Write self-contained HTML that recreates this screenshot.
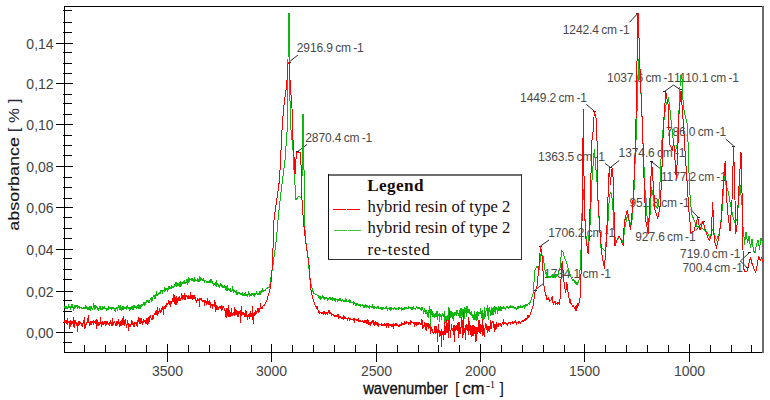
<!DOCTYPE html>
<html><head><meta charset="utf-8"><style>
html,body{margin:0;padding:0;background:#fff;}
body{width:770px;height:400px;overflow:hidden;position:relative;}
svg{position:absolute;left:0;top:0;}
.ax{font-family:"Liberation Sans",sans-serif;font-size:14px;fill:#444;}
.ann{font-family:"Liberation Sans",sans-serif;font-size:12px;fill:#484848;word-spacing:-1.0px;letter-spacing:-0.1px;}
.lg{font-family:"Liberation Serif",serif;font-size:16.6px;fill:#1a0a0a;}
.lgb{font-family:"Liberation Serif",serif;font-size:17.2px;font-weight:bold;fill:#1a0a0a;}
.ttl{font-family:"Liberation Sans",sans-serif;fill:#111;stroke:#111;stroke-width:0.35px;}
</style></head><body>
<svg width="770" height="400" viewBox="0 0 770 400">
<rect x="64" y="6" width="699" height="1" fill="#000"/><rect x="64" y="352" width="699" height="1" fill="#000"/><rect x="64" y="6" width="1" height="347" fill="#000"/><rect x="762" y="6" width="2" height="347" fill="#6a6a6a"/><rect x="56" y="43" width="17" height="1" fill="#000"/><rect x="56" y="83" width="17" height="1" fill="#000"/><rect x="56" y="124" width="17" height="1" fill="#000"/><rect x="56" y="166" width="17" height="1" fill="#000"/><rect x="56" y="207" width="17" height="1" fill="#000"/><rect x="56" y="249" width="17" height="1" fill="#000"/><rect x="56" y="291" width="17" height="1" fill="#000"/><rect x="56" y="332" width="17" height="1" fill="#000"/><rect x="63" y="10" width="9" height="1" fill="#000"/><rect x="63" y="22" width="9" height="1" fill="#000"/><rect x="63" y="32" width="9" height="1" fill="#000"/><rect x="63" y="52" width="9" height="1" fill="#000"/><rect x="63" y="63" width="9" height="1" fill="#000"/><rect x="63" y="73" width="9" height="1" fill="#000"/><rect x="63" y="94" width="9" height="1" fill="#000"/><rect x="63" y="103" width="9" height="1" fill="#000"/><rect x="63" y="114" width="9" height="1" fill="#000"/><rect x="63" y="135" width="9" height="1" fill="#000"/><rect x="63" y="145" width="9" height="1" fill="#000"/><rect x="63" y="155" width="9" height="1" fill="#000"/><rect x="63" y="177" width="9" height="1" fill="#000"/><rect x="63" y="187" width="9" height="1" fill="#000"/><rect x="63" y="198" width="9" height="1" fill="#000"/><rect x="63" y="217" width="9" height="1" fill="#000"/><rect x="63" y="228" width="9" height="1" fill="#000"/><rect x="63" y="238" width="9" height="1" fill="#000"/><rect x="63" y="258" width="9" height="1" fill="#000"/><rect x="63" y="269" width="9" height="1" fill="#000"/><rect x="63" y="279" width="9" height="1" fill="#000"/><rect x="63" y="300" width="9" height="1" fill="#000"/><rect x="63" y="311" width="9" height="1" fill="#000"/><rect x="63" y="322" width="9" height="1" fill="#000"/><rect x="63" y="342" width="9" height="1" fill="#000"/><rect x="84" y="345" width="1" height="8" fill="#000"/><rect x="105" y="345" width="1" height="8" fill="#000"/><rect x="125" y="345" width="1" height="8" fill="#000"/><rect x="146" y="345" width="1" height="8" fill="#000"/><rect x="167" y="344" width="1" height="18" fill="#000"/><rect x="188" y="345" width="1" height="8" fill="#000"/><rect x="209" y="345" width="1" height="8" fill="#000"/><rect x="230" y="345" width="1" height="8" fill="#000"/><rect x="251" y="345" width="1" height="8" fill="#000"/><rect x="271" y="344" width="1" height="18" fill="#000"/><rect x="292" y="345" width="1" height="8" fill="#000"/><rect x="313" y="345" width="1" height="8" fill="#000"/><rect x="334" y="345" width="1" height="8" fill="#000"/><rect x="355" y="345" width="1" height="8" fill="#000"/><rect x="376" y="344" width="1" height="18" fill="#000"/><rect x="397" y="345" width="1" height="8" fill="#000"/><rect x="418" y="345" width="1" height="8" fill="#000"/><rect x="438" y="345" width="1" height="8" fill="#000"/><rect x="459" y="345" width="1" height="8" fill="#000"/><rect x="480" y="344" width="1" height="18" fill="#000"/><rect x="501" y="345" width="1" height="8" fill="#000"/><rect x="522" y="345" width="1" height="8" fill="#000"/><rect x="543" y="345" width="1" height="8" fill="#000"/><rect x="564" y="345" width="1" height="8" fill="#000"/><rect x="584" y="344" width="1" height="18" fill="#000"/><rect x="605" y="345" width="1" height="8" fill="#000"/><rect x="626" y="345" width="1" height="8" fill="#000"/><rect x="647" y="345" width="1" height="8" fill="#000"/><rect x="668" y="345" width="1" height="8" fill="#000"/><rect x="689" y="344" width="1" height="18" fill="#000"/><rect x="710" y="345" width="1" height="8" fill="#000"/><rect x="731" y="345" width="1" height="8" fill="#000"/><rect x="751" y="345" width="1" height="8" fill="#000"/>
<line x1="289" y1="62" x2="298" y2="55" stroke="#2a2a2a" stroke-width="1"/><rect x="288" y="62" width="3" height="1" fill="#222"/><line x1="297.6" y1="151.6" x2="307" y2="144.5" stroke="#2a2a2a" stroke-width="1"/><rect x="296" y="151" width="3" height="1" fill="#222"/><line x1="540.5" y1="246" x2="549" y2="240" stroke="#2a2a2a" stroke-width="1"/><rect x="539" y="246" width="3" height="1" fill="#222"/><line x1="535" y1="290" x2="544" y2="283" stroke="#2a2a2a" stroke-width="1"/><rect x="534" y="290" width="3" height="1" fill="#222"/><line x1="586.3" y1="104.3" x2="594.5" y2="111.3" stroke="#2a2a2a" stroke-width="1"/><rect x="593" y="111" width="3" height="1" fill="#222"/><line x1="605.1" y1="163.4" x2="610.4" y2="167.5" stroke="#2a2a2a" stroke-width="1"/><rect x="609" y="167" width="3" height="1" fill="#222"/><line x1="619.2" y1="160.5" x2="610.4" y2="167.5" stroke="#2a2a2a" stroke-width="1"/><rect x="609" y="167" width="3" height="1" fill="#222"/><line x1="629.5" y1="22.3" x2="637.7" y2="13.5" stroke="#2a2a2a" stroke-width="1"/><rect x="636" y="13" width="3" height="1" fill="#222"/><line x1="673.5" y1="85" x2="680" y2="89.5" stroke="#2a2a2a" stroke-width="1"/><rect x="679" y="89" width="3" height="1" fill="#222"/><line x1="673.5" y1="85" x2="664.5" y2="91.5" stroke="#2a2a2a" stroke-width="1"/><rect x="663" y="91" width="3" height="1" fill="#222"/><line x1="725.6" y1="139" x2="733.8" y2="146" stroke="#2a2a2a" stroke-width="1"/><rect x="732" y="146" width="3" height="1" fill="#222"/><line x1="661.6" y1="169.6" x2="651.1" y2="161.4" stroke="#2a2a2a" stroke-width="1"/><rect x="650" y="161" width="3" height="1" fill="#222"/><line x1="690.7" y1="209.3" x2="698.3" y2="217.5" stroke="#2a2a2a" stroke-width="1"/><rect x="697" y="217" width="3" height="1" fill="#222"/><line x1="696" y1="230.5" x2="703" y2="221" stroke="#2a2a2a" stroke-width="1"/><rect x="702" y="221" width="3" height="1" fill="#222"/><line x1="740.4" y1="261" x2="749.7" y2="252.3" stroke="#2a2a2a" stroke-width="1"/><rect x="748" y="252" width="3" height="1" fill="#222"/><line x1="740.4" y1="261" x2="747.2" y2="267.8" stroke="#2a2a2a" stroke-width="1"/><rect x="746" y="267" width="3" height="1" fill="#222"/><text x="296.8" y="51.9" class="ann">2916.9 cm -1</text><text x="305.3" y="141.6" class="ann">2870.4 cm -1</text><text x="548.3" y="236.6" class="ann">1706.2 cm -1</text><text x="544.1" y="278.1" class="ann">1734.1 cm -1</text><text x="520.1" y="102.2" class="ann">1449.2 cm -1</text><text x="538.1" y="161.0" class="ann">1363.5 cm -1</text><text x="618.6" y="156.6" class="ann">1374.6 cm -1</text><text x="562.8" y="34.0" class="ann">1242.4 cm -1</text><text x="607.1" y="82.0" class="ann">1037.6 cm -1</text><text x="673.9" y="82.0" class="ann">1110.1 cm -1</text><text x="665.9" y="136.0" class="ann">786.0 cm -1</text><text x="660.9" y="180.7" class="ann">1177.2 cm -1</text><text x="629.4" y="207.3" class="ann">951.8 cm -1</text><text x="635.3" y="241.0" class="ann">927.6 cm -1</text><text x="680.1" y="257.9" class="ann">719.0 cm -1</text><text x="682.5" y="272.3" class="ann">700.4 cm -1</text>
<polyline points="64.00,307.00 64.35,307.35 64.70,307.73 65.05,306.44 65.40,307.75 65.75,306.81 66.10,308.62 66.45,306.38 66.80,309.31 67.15,307.80 67.50,307.92 67.85,309.16 68.20,307.57 68.55,304.32 68.90,306.50 69.25,306.61 69.60,307.73 69.95,305.69 70.30,307.87 70.65,309.58 71.00,306.63 71.35,305.85 71.70,308.15 72.05,306.22 72.40,308.34 72.75,306.13 73.10,306.98 73.45,310.55 73.80,309.32 74.15,305.20 74.50,308.84 74.85,306.95 75.20,306.04 75.55,307.08 75.90,307.87 76.25,305.44 76.60,306.76 76.95,307.08 77.30,308.65 77.65,305.20 78.00,306.08 78.35,307.49 78.70,307.44 79.05,306.22 79.40,306.31 79.75,309.11 80.10,307.74 80.45,307.47 80.80,307.18 81.15,308.16 81.50,307.54 81.85,307.93 82.20,308.19 82.55,308.16 82.90,309.37 83.25,306.88 83.60,307.80 83.95,308.00 84.30,308.59 84.65,308.07 85.00,308.97 85.35,305.42 85.70,309.28 86.05,307.40 86.40,307.17 86.75,309.02 87.10,307.78 87.45,307.81 87.80,309.41 88.15,307.85 88.50,310.25 88.85,306.57 89.20,307.81 89.55,310.25 89.90,305.57 90.25,306.43 90.60,309.40 90.95,308.56 91.30,306.14 91.65,307.81 92.00,308.36 92.35,309.04 92.70,308.47 93.05,308.16 93.40,303.38 93.75,304.16 94.10,307.19 94.45,305.53 94.80,309.69 95.15,307.48 95.50,308.80 95.85,305.34 96.20,307.99 96.55,306.72 96.90,306.78 97.25,309.85 97.60,307.45 97.95,307.55 98.30,311.32 98.65,309.09 99.00,309.41 99.35,307.77 99.70,307.00 100.00,308.20 100.05,308.37 100.40,307.69 100.75,309.54 101.10,307.95 101.45,308.41 101.80,309.26 102.15,308.89 102.50,310.18 102.85,306.08 103.20,307.41 103.55,309.10 103.90,307.02 104.25,306.15 104.60,306.18 104.95,308.69 105.30,308.70 105.65,308.44 106.00,308.37 106.35,309.38 106.70,310.69 107.05,308.42 107.40,308.20 107.75,309.85 108.10,308.32 108.45,305.89 108.80,309.51 109.15,307.87 109.50,307.57 109.85,307.70 110.20,307.34 110.55,307.51 110.90,308.35 111.25,306.93 111.60,310.13 111.95,307.97 112.30,307.64 112.65,308.09 113.00,307.38 113.35,308.04 113.70,308.59 114.05,307.96 114.40,308.12 114.75,309.48 115.10,311.77 115.45,308.61 115.80,308.16 116.15,308.37 116.50,306.72 116.85,308.36 117.20,308.01 117.55,309.16 117.90,308.21 118.25,305.31 118.60,307.21 118.95,307.47 119.30,306.42 119.65,309.08 120.00,310.10 120.35,306.35 120.70,305.10 121.05,310.38 121.40,307.07 121.75,309.31 122.10,308.56 122.45,307.43 122.80,308.84 123.15,310.16 123.50,306.87 123.85,307.44 124.20,308.49 124.55,308.39 124.90,307.10 125.25,307.03 125.60,307.44 125.95,308.85 126.30,310.11 126.65,307.18 127.00,307.74 127.35,307.57 127.70,305.30 128.05,308.32 128.40,308.56 128.75,308.01 129.10,307.44 129.45,308.81 129.80,311.02 130.15,308.75 130.50,306.82 130.85,308.40 131.20,307.44 131.55,308.51 131.90,305.91 132.25,307.26 132.60,309.05 132.95,308.33 133.30,309.22 133.65,308.95 134.00,305.17 134.35,308.05 134.70,305.84 135.05,306.29 135.40,306.29 135.75,307.53 136.00,307.60 136.10,308.55 136.45,306.57 136.80,307.06 137.15,307.21 137.50,307.62 137.85,306.34 138.20,304.18 138.55,308.60 138.90,307.43 139.25,308.81 139.60,307.07 139.95,305.32 140.00,306.00 140.30,305.70 140.65,307.27 141.00,306.24 141.35,304.59 141.70,305.94 142.05,305.76 142.40,304.89 142.75,305.25 143.10,304.97 143.45,303.30 143.80,304.28 144.15,302.78 144.50,306.19 144.85,302.31 145.00,303.80 145.20,305.21 145.55,303.47 145.90,302.62 146.25,301.04 146.60,302.65 146.95,300.58 147.30,301.54 147.65,300.47 148.00,300.61 148.35,301.36 148.70,299.84 149.05,302.51 149.40,299.94 149.75,301.93 150.00,300.00 150.10,300.12 150.45,299.68 150.80,299.08 151.15,297.31 151.50,300.41 151.85,299.71 152.20,300.95 152.55,298.51 152.90,298.09 153.25,295.25 153.60,296.44 153.95,294.69 154.30,296.61 154.65,294.99 155.00,298.92 155.35,297.81 155.70,294.25 156.05,293.93 156.40,291.47 156.75,295.60 157.10,294.16 157.45,295.08 157.80,295.65 158.15,293.41 158.50,295.32 158.85,293.61 159.20,291.92 159.55,293.65 159.90,293.69 160.00,292.50 160.25,293.13 160.60,291.91 160.95,290.08 161.30,290.37 161.65,291.89 162.00,291.77 162.35,292.45 162.70,290.59 163.05,290.09 163.40,290.39 163.75,290.53 164.10,291.31 164.45,291.05 164.80,288.55 165.15,289.43 165.50,290.04 165.85,288.92 166.20,289.65 166.55,288.94 166.90,289.80 167.25,287.57 167.60,291.63 167.95,289.60 168.30,288.86 168.65,288.11 169.00,285.92 169.35,288.56 169.70,286.75 170.05,288.69 170.40,287.24 170.75,287.26 171.10,287.75 171.45,288.32 171.80,284.83 172.15,286.46 172.50,287.48 172.85,287.23 173.20,285.70 173.55,287.10 173.90,287.57 174.25,284.41 174.60,285.83 174.95,287.37 175.00,286.00 175.30,283.39 175.65,283.86 176.00,282.14 176.35,286.61 176.70,284.83 177.05,285.09 177.40,284.27 177.75,285.97 178.10,283.59 178.45,285.32 178.80,285.08 179.15,285.56 179.50,282.61 179.85,283.75 180.20,286.54 180.55,281.33 180.90,282.53 181.25,285.54 181.60,284.84 181.95,282.44 182.30,283.09 182.65,283.68 183.00,284.10 183.35,281.90 183.70,282.33 184.05,281.76 184.40,280.09 184.75,282.54 185.00,282.00 185.10,283.09 185.45,283.45 185.80,282.12 186.15,281.43 186.50,282.02 186.85,279.12 187.20,279.16 187.55,281.81 187.90,285.38 188.25,278.29 188.60,280.21 188.95,277.00 189.30,281.21 189.65,281.43 190.00,279.50 190.35,279.72 190.70,279.58 191.05,280.38 191.40,278.81 191.75,278.79 192.10,278.69 192.45,279.39 192.80,281.07 193.15,281.18 193.50,280.12 193.85,279.18 194.20,278.37 194.55,280.05 194.90,282.41 195.25,279.42 195.60,279.77 195.95,280.09 196.30,280.18 196.65,280.03 197.00,280.16 197.35,277.77 197.70,280.52 198.05,279.65 198.40,280.84 198.75,279.38 199.10,281.54 199.45,279.26 199.80,276.33 200.00,279.70 200.15,276.63 200.50,280.87 200.85,280.87 201.20,279.51 201.55,279.63 201.90,278.48 202.25,279.67 202.60,280.10 202.95,280.34 203.30,278.20 203.65,280.48 204.00,280.70 204.35,280.59 204.70,282.81 205.05,279.92 205.40,280.72 205.75,280.91 206.10,280.94 206.45,282.13 206.80,281.12 207.15,280.90 207.50,281.43 207.85,283.08 208.20,281.59 208.55,282.96 208.90,280.93 209.25,280.81 209.60,282.70 209.95,283.14 210.00,282.00 210.30,278.68 210.65,282.70 211.00,280.12 211.35,279.18 211.70,282.48 212.05,282.28 212.40,281.89 212.75,281.98 213.10,284.47 213.45,285.93 213.80,283.66 214.15,283.04 214.50,283.77 214.85,283.92 215.20,285.82 215.55,284.04 215.90,285.10 216.25,285.70 216.60,279.58 216.95,284.78 217.30,284.40 217.65,283.75 218.00,284.72 218.35,286.30 218.70,285.31 219.05,286.01 219.40,286.38 219.75,287.08 220.00,285.50 220.10,283.69 220.45,284.54 220.80,285.18 221.15,286.10 221.50,283.99 221.85,286.02 222.20,285.90 222.55,286.27 222.90,288.20 223.25,286.09 223.60,286.01 223.95,286.37 224.30,288.03 224.65,285.50 225.00,288.12 225.35,289.76 225.70,286.89 226.05,285.64 226.40,288.05 226.75,290.65 227.10,288.08 227.45,285.42 227.80,289.08 228.15,288.31 228.50,289.95 228.85,289.87 229.20,290.72 229.55,290.72 229.90,289.09 230.00,290.00 230.25,288.34 230.60,291.01 230.95,291.34 231.30,289.85 231.65,291.17 232.00,290.56 232.35,285.94 232.70,290.56 233.05,289.57 233.40,292.22 233.75,291.42 234.10,291.08 234.45,290.97 234.80,289.90 235.15,292.79 235.50,290.93 235.85,292.55 236.20,290.22 236.55,293.24 236.90,295.25 237.25,293.67 237.60,292.73 237.95,294.01 238.30,294.00 238.65,291.80 239.00,294.16 239.35,293.32 239.70,292.70 240.00,293.50 240.05,294.70 240.40,293.83 240.75,293.65 241.10,293.68 241.45,293.62 241.80,293.90 242.15,295.92 242.50,293.04 242.85,293.39 243.20,295.63 243.55,295.18 243.90,295.05 244.25,294.25 244.60,294.85 244.95,293.26 245.30,293.66 245.65,292.14 246.00,295.80 246.35,294.26 246.70,294.65 247.05,294.73 247.40,294.52 247.75,296.44 248.10,293.29 248.45,291.10 248.80,294.63 249.15,293.26 249.50,295.29 249.85,296.28 250.00,295.50 250.20,294.42 250.55,294.96 250.90,295.68 251.25,295.43 251.60,295.82 251.95,293.21 252.30,293.16 252.65,294.24 253.00,294.40 253.35,293.67 253.70,293.61 254.05,296.52 254.40,293.21 254.75,293.54 255.00,294.50 255.10,294.00 255.45,292.93 255.80,295.12 256.15,292.52 256.50,291.81 256.85,292.86 257.20,293.88 257.55,294.29 257.90,293.59 258.25,293.46 258.60,294.32 258.95,293.32 259.30,291.38 259.65,293.73 260.00,293.00 260.35,292.51 260.70,293.56 261.05,291.74 261.40,291.79 261.75,292.95 262.10,288.54 262.45,292.33 262.80,290.66 263.15,291.41 263.50,291.64 263.85,290.26 264.20,290.38 264.55,290.29 264.90,289.83 265.00,290.00 265.25,290.10 265.60,289.41 265.95,289.20 266.30,288.92 266.65,288.62 267.00,288.33 267.35,288.04 267.70,287.75 268.00,287.50 268.05,287.48 268.40,287.37 268.75,287.25 269.10,287.13 269.45,287.02 269.50,287.00 269.80,285.11 270.15,282.91 270.50,280.71 270.85,278.51 271.20,276.31 271.55,274.11 271.90,271.91 272.25,269.71 272.60,267.51 272.95,265.31 273.00,265.00 273.30,262.73 273.65,260.08 274.00,257.42 274.35,254.77 274.70,252.12 275.05,249.47 275.40,246.82 275.75,244.17 276.10,241.52 276.30,240.00 276.45,238.24 276.80,234.12 277.15,230.00 277.50,225.88 277.85,221.76 278.00,220.00 278.20,218.00 278.55,214.50 278.90,211.00 279.25,207.50 279.50,205.00 279.60,204.17 279.95,201.25 280.30,198.33 280.65,195.42 281.00,192.50 281.35,189.58 281.70,186.67 282.05,183.75 282.40,180.83 282.50,180.00 282.75,178.00 283.10,175.20 283.45,172.40 283.80,169.60 284.15,166.80 284.50,164.00 284.85,161.20 285.00,160.00 285.20,157.27 285.55,152.50 285.90,147.73 286.25,142.95 286.60,138.18 286.95,133.41 287.20,130.00 287.30,121.25 287.65,90.63 288.00,60.00 288.35,18.87 288.40,13.00 288.70,13.00 289.05,13.00 289.30,13.00 289.40,28.67 289.60,60.00 289.75,75.00 290.10,110.00 290.45,117.78 290.80,125.56 291.00,130.00 291.15,131.50 291.50,135.00 291.85,138.50 292.20,142.00 292.55,145.50 292.90,149.00 293.00,150.00 293.25,155.00 293.60,162.00 293.95,169.00 294.00,170.00 294.30,174.50 294.65,179.75 295.00,185.00 295.35,190.25 295.70,195.50 296.00,200.00 296.05,199.93 296.40,199.47 296.75,199.00 297.10,198.53 297.45,198.07 297.80,197.60 298.15,197.13 298.50,196.67 298.85,196.20 299.00,196.00 299.20,196.20 299.55,196.55 299.90,196.90 300.25,197.25 300.60,197.60 300.95,197.95 301.00,198.00 301.30,191.54 301.65,184.00 302.00,176.46 302.30,170.00 302.35,163.00 302.70,114.00 303.05,114.00 303.40,114.00 303.60,114.00 303.75,135.00 304.00,170.00 304.10,180.00 304.45,215.00 304.50,220.00 304.80,226.00 305.15,233.00 305.50,240.00 305.85,242.28 306.20,244.57 306.55,246.85 306.90,249.13 307.25,251.41 307.60,253.70 307.80,255.00 307.95,256.70 308.30,260.68 308.65,264.66 309.00,268.64 309.35,272.61 309.70,276.59 310.00,280.00 310.05,280.19 310.40,281.53 310.75,282.87 311.10,284.21 311.45,285.54 311.80,286.88 312.15,288.24 312.50,289.60 312.85,291.00 313.20,292.26 313.40,293.00 313.55,293.31 313.90,293.35 314.25,293.58 314.60,293.29 314.95,293.93 315.30,294.01 315.65,294.63 316.00,294.87 316.35,294.24 316.70,294.73 317.05,295.16 317.40,295.17 317.75,295.79 318.10,295.45 318.45,296.81 318.80,297.62 319.00,297.00 319.15,298.20 319.50,296.59 319.85,298.17 320.20,298.70 320.55,297.12 320.90,297.49 321.25,297.10 321.60,297.73 321.95,298.33 322.30,297.08 322.65,296.29 323.00,297.99 323.35,297.27 323.70,298.05 324.05,299.43 324.40,297.55 324.75,297.33 325.00,298.00 325.10,297.59 325.45,299.20 325.80,297.44 326.15,298.79 326.50,297.13 326.85,297.26 327.20,298.77 327.55,298.62 327.90,300.07 328.25,299.08 328.60,299.47 328.95,298.21 329.30,298.12 329.65,297.96 330.00,298.50 330.35,298.12 330.70,298.96 331.05,297.95 331.40,299.34 331.75,298.51 332.10,298.91 332.45,298.22 332.80,301.19 333.15,299.12 333.50,299.00 333.85,298.77 334.20,298.89 334.55,299.47 334.90,300.36 335.25,300.66 335.60,299.07 335.95,299.68 336.30,299.43 336.65,299.16 337.00,300.02 337.35,300.68 337.70,299.88 338.05,299.56 338.40,299.53 338.75,300.76 339.10,300.86 339.45,298.42 339.80,300.19 340.00,300.20 340.15,299.87 340.50,298.30 340.85,300.21 341.20,301.77 341.55,300.96 341.90,300.51 342.25,299.17 342.60,301.25 342.95,299.96 343.30,301.10 343.65,301.42 344.00,299.62 344.35,300.88 344.70,300.28 345.05,301.18 345.40,301.13 345.75,297.89 346.10,301.52 346.45,299.68 346.80,299.96 347.15,301.42 347.50,301.49 347.85,301.69 348.20,301.75 348.55,300.23 348.90,301.75 349.25,299.12 349.60,302.85 349.95,301.65 350.00,301.80 350.30,301.85 350.65,300.54 351.00,302.79 351.35,302.50 351.70,302.61 352.05,301.77 352.40,302.11 352.75,302.60 353.10,301.90 353.45,304.47 353.80,303.47 354.15,302.86 354.50,303.38 354.85,302.80 355.20,305.55 355.55,303.49 355.90,303.55 356.25,303.65 356.60,304.06 356.95,305.55 357.30,304.03 357.65,304.60 358.00,303.97 358.35,304.43 358.70,304.74 359.05,305.57 359.40,305.24 359.75,304.53 360.00,305.00 360.10,304.27 360.45,306.51 360.80,305.83 361.15,305.67 361.50,305.58 361.85,305.30 362.20,304.22 362.55,304.56 362.90,305.88 363.25,306.52 363.60,305.04 363.95,307.37 364.30,306.05 364.65,307.41 365.00,305.28 365.35,305.09 365.70,306.40 366.05,306.22 366.40,306.79 366.75,306.01 367.10,306.50 367.45,306.00 367.80,305.20 368.15,306.83 368.50,306.61 368.85,307.13 369.20,307.96 369.55,305.61 369.90,306.23 370.00,306.80 370.25,306.07 370.60,306.42 370.95,306.58 371.30,307.78 371.65,307.77 372.00,306.60 372.35,305.74 372.70,307.61 373.05,306.26 373.40,307.86 373.75,307.44 374.10,305.94 374.45,308.17 374.80,307.27 375.15,307.65 375.50,307.64 375.85,307.91 376.20,308.18 376.55,308.32 376.90,306.91 377.25,306.57 377.60,306.62 377.95,307.89 378.30,307.46 378.65,308.53 379.00,308.10 379.35,308.68 379.70,308.92 380.00,308.00 380.05,309.13 380.40,308.06 380.75,307.84 381.10,308.12 381.45,307.67 381.80,308.97 382.15,308.23 382.50,308.05 382.85,309.70 383.20,307.88 383.55,308.02 383.90,307.84 384.25,308.20 384.60,308.02 384.95,309.20 385.30,308.34 385.65,307.61 386.00,309.07 386.35,306.31 386.70,308.10 387.05,307.80 387.40,309.69 387.75,308.85 388.10,308.40 388.45,308.27 388.80,308.72 389.15,308.20 389.50,307.79 389.85,309.64 390.00,308.80 390.20,307.29 390.55,310.52 390.90,308.90 391.25,309.08 391.60,308.00 391.95,309.11 392.30,308.26 392.65,308.48 393.00,308.09 393.35,309.30 393.70,308.90 394.05,308.81 394.40,307.99 394.75,308.64 395.10,308.46 395.45,308.43 395.80,309.56 396.15,309.35 396.50,308.92 396.85,308.34 397.20,308.27 397.55,308.28 397.90,308.61 398.25,307.96 398.60,309.90 398.95,308.42 399.30,307.62 399.65,308.12 400.00,308.50 400.35,308.12 400.70,308.23 401.05,309.11 401.40,309.78 401.75,307.25 402.10,309.76 402.45,308.97 402.80,309.16 403.15,309.31 403.50,309.20 403.85,308.54 404.20,309.08 404.55,308.21 404.90,307.51 405.25,308.18 405.60,308.01 405.95,307.49 406.30,307.71 406.65,307.71 407.00,308.45 407.35,308.17 407.70,308.47 408.05,307.58 408.40,309.07 408.75,307.54 409.10,308.07 409.45,308.00 409.80,307.81 410.00,308.00 410.15,308.34 410.50,307.86 410.85,307.25 411.20,307.56 411.55,308.67 411.90,307.44 412.25,308.30 412.60,306.86 412.95,309.56 413.30,307.83 413.65,305.80 414.00,308.33 414.35,308.56 414.70,308.22 415.05,308.14 415.40,309.08 415.75,308.07 416.10,308.01 416.45,307.71 416.80,306.90 417.15,307.88 417.50,308.31 417.85,307.76 418.20,308.45 418.55,308.14 418.90,307.76 419.25,308.59 419.60,308.00 419.95,307.15 420.00,308.00 420.30,308.13 420.65,308.96 421.00,308.06 421.35,309.85 421.70,309.14 422.05,307.26 422.40,308.55 422.75,309.36 423.10,309.93 423.45,310.07 423.80,313.86 424.15,310.05 424.50,308.99 424.85,309.27 425.00,310.00 425.20,312.91 425.55,310.33 425.90,313.21 426.25,314.11 426.60,311.18 426.95,311.66 427.30,316.60 427.65,313.63 428.00,313.01 428.35,317.59 428.70,310.86 429.05,310.39 429.40,309.67 429.75,306.24 430.00,313.00 430.10,314.76 430.45,326.88 430.80,308.78 431.15,310.97 431.50,314.52 431.85,309.23 432.20,313.83 432.55,313.18 432.90,316.38 433.25,316.59 433.60,314.46 433.95,313.46 434.30,315.63 434.65,318.42 435.00,315.00 435.35,313.28 435.70,316.55 436.05,314.25 436.40,311.51 436.75,316.92 437.10,310.54 437.45,319.62 437.80,317.36 438.15,314.47 438.50,315.75 438.85,314.16 439.20,313.45 439.55,322.33 439.90,318.34 440.00,316.00 440.25,317.30 440.60,316.09 440.95,314.33 441.30,319.76 441.65,317.02 442.00,315.69 442.35,314.15 442.70,314.97 443.05,314.16 443.40,316.50 443.75,315.54 444.10,315.15 444.45,322.04 444.80,311.48 445.00,317.50 445.15,316.14 445.50,319.82 445.85,317.14 446.20,329.30 446.55,315.87 446.90,319.20 447.00,319.00 447.25,318.92 447.60,320.80 447.95,316.22 448.30,310.07 448.65,325.30 449.00,307.18 449.35,319.44 449.70,315.85 450.00,316.00 450.05,318.09 450.40,314.29 450.75,311.47 451.10,313.19 451.45,316.48 451.80,311.20 452.15,314.48 452.50,312.28 452.85,317.35 453.20,320.69 453.55,312.86 453.90,317.54 454.25,312.56 454.60,313.09 454.95,314.83 455.00,312.50 455.30,313.60 455.65,312.32 456.00,314.38 456.35,310.28 456.70,315.94 457.05,310.28 457.40,311.38 457.75,313.12 458.10,313.86 458.45,313.75 458.80,313.17 459.15,317.68 459.50,310.75 459.85,310.10 460.00,312.00 460.20,317.86 460.55,308.43 460.90,311.37 461.25,315.04 461.60,315.77 461.95,309.53 462.30,310.13 462.65,316.49 463.00,316.43 463.35,316.36 463.70,313.06 464.05,308.95 464.40,319.18 464.75,307.51 465.00,313.00 465.10,308.41 465.45,310.84 465.80,311.45 466.15,313.94 466.50,306.48 466.85,317.48 467.20,306.51 467.55,311.13 467.90,312.69 468.25,312.30 468.60,308.78 468.95,310.78 469.30,310.27 469.65,312.87 470.00,313.50 470.35,311.91 470.70,315.05 471.05,313.34 471.40,314.30 471.75,310.64 472.10,317.11 472.45,314.05 472.80,315.01 473.15,319.59 473.50,315.19 473.85,320.27 474.20,319.02 474.55,317.72 474.90,311.09 475.00,317.00 475.25,315.74 475.60,313.57 475.95,320.07 476.30,312.07 476.65,316.93 477.00,320.60 477.35,311.38 477.70,318.02 478.05,314.55 478.40,314.97 478.75,313.15 479.10,314.01 479.45,313.26 479.80,312.20 480.00,313.50 480.15,308.44 480.50,312.62 480.85,309.65 481.20,318.48 481.55,311.02 481.90,310.98 482.25,310.31 482.60,311.22 482.95,319.22 483.30,317.55 483.65,312.74 484.00,319.66 484.35,306.82 484.70,313.19 485.00,312.50 485.05,316.73 485.40,315.00 485.75,313.53 486.10,309.85 486.45,308.64 486.80,308.45 487.15,309.93 487.50,305.16 487.85,313.31 488.20,319.52 488.55,307.99 488.90,312.17 489.25,307.40 489.60,311.58 489.95,309.57 490.00,310.50 490.30,315.89 490.65,310.20 491.00,312.74 491.35,306.72 491.70,311.15 492.05,314.83 492.40,311.22 492.75,307.72 493.10,315.26 493.45,307.40 493.80,312.89 494.15,305.65 494.50,307.63 494.85,311.91 495.00,309.50 495.20,314.39 495.55,306.97 495.90,309.57 496.25,307.65 496.60,307.75 496.95,308.87 497.30,314.32 497.65,308.87 498.00,308.23 498.35,307.64 498.70,309.10 499.05,310.98 499.40,308.87 499.75,307.74 500.00,308.50 500.10,308.78 500.45,309.53 500.80,307.07 501.15,307.45 501.50,310.43 501.85,308.90 502.20,307.97 502.55,307.88 502.90,308.13 503.25,308.20 503.60,309.33 503.95,306.50 504.30,308.47 504.65,308.19 505.00,308.18 505.35,308.52 505.70,309.40 506.05,307.62 506.40,307.37 506.75,306.45 507.10,306.20 507.45,307.70 507.80,307.69 508.15,307.52 508.50,307.39 508.85,308.47 509.20,307.20 509.55,306.72 509.90,308.05 510.00,307.50 510.25,306.19 510.60,305.80 510.95,308.21 511.30,306.84 511.65,307.20 512.00,307.37 512.35,306.87 512.70,307.13 513.05,306.89 513.40,307.38 513.75,306.96 514.10,307.78 514.45,307.94 514.80,307.49 515.15,307.13 515.50,308.22 515.85,307.54 516.20,309.21 516.55,308.23 516.90,307.96 517.25,306.94 517.60,308.81 517.95,306.85 518.30,309.42 518.65,306.07 519.00,308.07 519.35,306.13 519.70,307.23 520.00,307.50 520.05,305.21 520.40,307.33 520.75,307.42 521.10,308.12 521.45,307.18 521.80,307.25 522.15,306.14 522.50,307.04 522.85,306.51 523.20,305.72 523.55,306.08 523.90,305.67 524.25,305.62 524.60,305.31 524.95,308.59 525.00,306.00 525.30,307.14 525.65,305.57 526.00,306.21 526.35,305.39 526.70,304.78 527.05,304.92 527.40,304.47 527.75,305.33 528.10,303.51 528.45,303.35 528.80,303.78 529.15,304.50 529.50,303.28 529.85,302.26 530.00,303.00 530.20,302.06 530.55,301.63 530.90,300.25 531.25,299.24 531.60,298.11 531.95,297.14 532.30,296.10 532.65,295.05 533.00,294.00 533.35,289.80 533.70,285.60 534.05,281.40 534.40,277.20 534.75,273.00 535.00,270.00 535.10,269.80 535.45,269.10 535.80,268.40 536.15,267.70 536.50,267.00 536.85,266.30 537.00,266.00 537.20,266.40 537.55,267.10 537.90,267.80 538.25,268.50 538.60,269.20 538.95,269.90 539.00,270.00 539.30,267.60 539.65,264.80 540.00,262.00 540.35,259.20 540.70,256.40 541.00,254.00 541.05,254.05 541.40,254.40 541.75,254.75 542.10,255.10 542.45,255.45 542.80,255.80 543.00,256.00 543.15,257.05 543.50,259.50 543.85,261.95 544.20,264.40 544.55,266.85 544.90,269.30 545.00,270.00 545.25,270.74 545.60,272.68 545.95,272.28 546.30,273.68 546.65,276.54 547.00,277.00 547.35,276.45 547.70,275.51 548.05,276.54 548.40,277.14 548.75,276.38 549.10,276.65 549.45,277.49 549.80,277.58 550.00,276.00 550.15,275.98 550.50,276.88 550.85,277.69 551.20,275.21 551.55,276.37 551.90,275.95 552.25,273.58 552.60,277.02 552.95,277.64 553.30,274.70 553.65,275.28 554.00,277.04 554.35,276.56 554.70,277.67 555.00,276.00 555.05,277.76 555.40,273.93 555.75,274.79 556.10,275.53 556.45,276.76 556.80,274.48 557.15,274.79 557.50,275.52 557.85,274.97 558.00,275.00 558.20,274.49 558.55,272.07 558.90,271.41 559.25,270.36 559.60,269.86 559.95,268.17 560.00,268.00 560.30,264.60 560.65,260.63 561.00,256.67 561.35,252.70 561.50,251.00 561.70,251.13 562.05,251.37 562.40,251.60 562.75,251.83 563.00,252.00 563.10,252.40 563.45,253.80 563.80,255.20 564.15,256.60 564.50,258.00 564.85,258.72 565.20,259.57 565.55,260.17 565.90,260.85 566.25,262.06 566.60,263.35 566.70,262.50 566.95,263.80 567.30,265.16 567.65,267.11 568.00,268.19 568.35,269.67 568.40,270.00 568.70,273.03 569.05,271.03 569.40,274.01 569.75,273.11 570.10,274.87 570.45,274.87 570.80,276.78 571.15,277.72 571.50,278.40 571.85,279.06 572.20,279.10 572.55,279.83 572.90,280.56 573.25,279.67 573.60,280.50 573.95,280.40 574.30,282.45 574.65,279.79 575.00,281.69 575.35,282.81 575.70,281.91 576.05,282.29 576.40,283.03 576.75,284.62 576.80,283.70 577.10,282.96 577.45,283.58 577.80,282.82 578.15,282.78 578.50,281.17 578.85,281.99 578.90,281.60 579.20,277.65 579.55,273.96 579.90,271.11 580.00,270.00 580.25,266.25 580.60,261.00 580.80,258.00 580.95,252.44 581.30,239.47 581.65,226.50 582.00,213.53 582.35,200.56 582.50,195.00 582.70,193.80 583.05,191.70 583.40,189.60 583.50,189.00 583.75,194.25 584.10,201.60 584.45,208.95 584.50,210.00 584.80,215.22 585.15,221.31 585.50,227.40 585.85,233.49 586.20,239.58 586.50,244.80 586.55,244.81 586.90,244.85 587.25,244.89 587.60,244.94 587.95,244.98 588.10,245.00 588.30,242.89 588.65,239.21 589.00,235.53 589.35,231.84 589.70,228.16 590.00,225.00 590.05,223.88 590.40,216.00 590.75,208.12 591.10,200.25 591.45,192.37 591.80,184.50 592.00,180.00 592.15,177.98 592.50,173.26 592.85,168.54 593.20,163.83 593.55,159.11 593.90,154.39 594.25,149.67 594.30,149.00 594.60,152.67 594.95,156.94 595.30,161.22 595.65,165.50 596.00,169.78 596.35,174.06 596.70,178.33 597.00,182.00 597.05,182.93 597.40,189.47 597.75,196.00 598.10,202.53 598.45,209.07 598.50,210.00 598.80,214.50 599.15,219.75 599.50,225.00 599.85,230.25 600.20,235.50 600.55,240.75 600.90,246.00 601.00,247.50 601.25,247.71 601.60,248.00 601.95,248.28 602.30,248.57 602.65,248.86 603.00,249.15 603.35,249.44 603.70,249.73 604.05,250.02 604.40,250.30 604.75,250.59 605.00,250.80 605.10,249.97 605.45,247.06 605.80,244.14 606.15,241.23 606.50,238.32 606.85,235.41 607.20,232.50 607.50,230.00 607.55,229.13 607.90,223.00 608.25,216.88 608.60,210.75 608.95,204.62 609.30,198.50 609.50,195.00 609.65,194.75 610.00,194.17 610.35,193.58 610.70,193.00 611.00,192.50 611.05,192.75 611.40,194.50 611.75,196.25 612.10,198.00 612.45,199.75 612.50,200.00 612.80,206.00 613.15,213.00 613.50,220.00 613.85,227.00 614.00,230.00 614.20,231.33 614.55,233.67 614.90,236.00 615.25,238.33 615.60,240.67 615.80,242.00 615.95,241.75 616.30,241.17 616.65,240.58 617.00,240.00 617.35,239.47 617.70,238.95 618.05,238.43 618.40,237.90 618.75,237.38 619.00,237.00 619.10,237.09 619.45,237.41 619.80,237.73 620.15,238.05 620.50,238.36 620.85,238.68 621.20,239.00 621.55,239.67 621.90,240.33 622.25,241.00 622.60,241.67 622.95,242.33 623.30,243.00 623.65,239.21 624.00,235.42 624.35,231.62 624.50,230.00 624.70,228.93 625.05,227.05 625.40,225.18 625.75,223.30 626.10,221.43 626.45,219.55 626.80,217.68 627.15,215.80 627.30,215.00 627.50,215.74 627.85,217.04 628.20,218.33 628.55,219.63 628.90,220.93 629.25,222.22 629.60,223.52 629.95,224.81 630.00,225.00 630.30,224.25 630.65,223.38 631.00,222.50 631.35,221.62 631.70,220.75 632.00,220.00 632.05,219.25 632.40,214.00 632.75,208.75 633.10,203.50 633.45,198.25 633.80,193.00 634.00,190.00 634.15,186.25 634.50,177.50 634.85,168.75 635.20,160.00 635.55,151.25 635.90,142.50 636.00,140.00 636.25,133.12 636.60,123.50 636.80,118.00 636.95,113.34 637.30,102.47 637.65,91.61 638.00,80.74 638.35,69.87 638.70,59.00 639.05,64.65 639.40,70.31 639.75,75.96 640.00,80.00 640.10,81.38 640.45,86.23 640.80,91.08 641.15,95.92 641.30,98.00 641.50,103.20 641.85,112.30 642.20,121.40 642.55,130.50 642.90,139.60 643.25,148.70 643.30,150.00 643.60,157.06 643.95,165.29 644.30,173.53 644.65,181.76 645.00,190.00 645.35,195.54 645.70,201.08 646.05,206.62 646.20,209.00 646.40,210.77 646.75,213.87 647.10,216.97 647.45,220.07 647.80,223.17 648.15,226.27 648.30,227.60 648.50,226.12 648.85,223.52 649.20,220.93 649.55,218.34 649.90,215.74 650.00,215.00 650.25,210.30 650.60,203.72 650.95,197.14 651.30,190.56 651.50,186.80 651.65,187.62 652.00,189.53 652.35,191.45 652.70,193.36 653.00,195.00 653.05,195.25 653.40,197.00 653.75,198.75 654.10,200.50 654.45,202.25 654.80,204.00 655.00,205.00 655.15,205.20 655.50,205.66 655.85,206.12 656.20,206.59 656.55,207.05 656.90,207.51 657.25,207.97 657.60,208.44 657.80,208.70 657.95,207.49 658.30,204.67 658.65,201.85 659.00,199.03 659.35,196.21 659.50,195.00 659.70,190.08 660.05,181.46 660.40,172.85 660.75,164.23 660.80,163.00 661.10,157.25 661.45,150.54 661.80,143.83 662.00,140.00 662.15,138.50 662.50,135.00 662.85,131.50 663.20,128.00 663.55,124.50 663.90,121.00 664.00,120.00 664.25,118.12 664.60,115.50 664.95,112.87 665.30,110.25 665.65,107.63 666.00,105.00 666.35,103.92 666.70,102.84 667.05,101.76 667.40,100.68 667.75,99.60 668.10,98.52 668.40,97.60 668.45,97.99 668.80,100.70 669.15,103.41 669.50,106.13 669.85,108.84 670.00,110.00 670.20,112.00 670.55,115.50 670.90,119.00 671.25,122.50 671.50,125.00 671.60,125.88 671.95,128.97 672.30,132.06 672.65,135.15 673.00,138.24 673.20,140.00 673.35,140.90 673.70,143.00 674.05,145.10 674.40,147.20 674.75,149.30 675.10,151.40 675.20,152.00 675.45,151.03 675.80,149.67 676.15,148.31 676.50,146.94 676.85,145.58 677.00,145.00 677.20,142.14 677.55,137.14 677.90,132.14 678.25,127.14 678.40,125.00 678.60,120.24 678.95,111.90 679.30,103.57 679.65,95.24 680.00,86.90 680.35,78.57 680.50,75.00 680.70,75.00 681.05,75.00 681.40,75.00 681.75,75.00 681.80,75.00 682.10,81.25 682.45,88.54 682.80,95.83 683.00,100.00 683.15,101.50 683.50,105.00 683.85,108.50 684.10,111.00 684.20,111.40 684.55,112.81 684.90,114.22 685.25,115.64 685.60,117.05 685.95,118.46 686.30,119.87 686.65,121.28 687.00,122.69 687.30,123.90 687.35,125.19 687.70,134.24 688.00,142.00 688.05,143.56 688.40,154.44 688.75,165.33 688.90,170.00 689.10,174.55 689.45,182.50 689.80,190.45 690.00,195.00 690.15,196.72 690.50,200.74 690.85,204.75 691.20,208.76 691.55,212.78 691.70,214.50 691.90,214.95 692.25,215.75 692.60,216.54 692.95,217.33 693.30,218.12 693.65,218.92 694.00,219.71 694.35,220.50 694.70,221.29 695.05,222.08 695.40,222.88 695.75,223.67 696.10,224.46 696.45,225.25 696.80,226.05 697.00,226.50 697.15,226.55 697.50,226.67 697.85,226.78 698.20,226.90 698.55,227.02 698.90,227.13 699.25,227.25 699.60,227.37 699.95,227.48 700.30,227.60 700.65,227.72 701.00,227.83 701.35,227.95 701.50,228.00 701.70,228.13 702.05,228.37 702.40,228.60 702.75,228.83 703.10,229.07 703.45,229.30 703.80,229.53 704.15,229.77 704.50,230.00 704.85,230.23 705.20,230.47 705.55,230.70 705.90,230.93 706.00,231.00 706.25,231.41 706.60,231.97 706.95,232.54 707.30,233.11 707.65,233.68 708.00,234.24 708.35,234.81 708.70,235.38 709.05,235.95 709.40,236.51 709.70,237.00 709.75,236.88 710.10,236.00 710.45,235.12 710.80,234.25 711.15,233.38 711.50,232.50 711.85,231.63 712.20,230.75 712.55,229.88 712.70,229.50 712.90,230.05 713.25,231.02 713.60,231.99 713.95,232.95 714.30,233.92 714.65,234.89 715.00,235.86 715.35,236.82 715.70,237.79 716.05,238.76 716.40,239.72 716.50,240.00 716.75,239.38 717.10,238.50 717.45,237.62 717.80,236.75 718.15,235.88 718.50,235.00 718.85,234.12 719.20,233.25 719.50,232.50 719.55,232.08 719.90,229.10 720.25,226.12 720.60,223.15 720.95,220.17 721.30,217.20 721.65,214.23 722.00,211.25 722.35,208.27 722.50,207.00 722.70,202.73 723.05,195.27 723.40,187.80 723.75,180.33 724.00,175.00 724.10,175.50 724.45,177.25 724.80,179.00 725.15,180.75 725.50,182.50 725.85,184.25 726.00,185.00 726.20,185.60 726.55,186.65 726.90,187.70 727.25,188.75 727.60,189.80 727.95,190.85 728.00,191.00 728.30,192.60 728.65,194.47 729.00,196.33 729.35,198.20 729.70,200.07 730.05,201.93 730.40,203.80 730.75,205.67 731.00,207.00 731.10,207.50 731.45,209.25 731.80,211.00 732.15,212.75 732.50,214.50 732.85,216.25 733.00,217.00 733.20,217.60 733.55,218.65 733.90,219.70 734.25,220.75 734.60,221.80 734.95,222.85 735.00,223.00 735.30,222.40 735.65,221.70 736.00,221.00 736.35,220.30 736.70,219.60 737.00,219.00 737.05,218.43 737.40,214.47 737.75,210.50 738.10,206.53 738.45,202.57 738.80,198.60 739.15,194.63 739.50,190.67 739.85,186.70 740.00,185.00 740.20,187.01 740.55,190.56 740.90,194.05 741.25,198.37 741.60,200.74 741.95,203.94 742.00,205.00 742.30,211.21 742.65,218.64 743.00,227.00 743.35,228.07 743.50,230.00 743.70,232.99 744.05,237.90 744.40,243.56 744.50,245.00 744.75,242.66 745.10,238.94 745.45,237.18 745.80,233.90 746.00,232.00 746.15,234.18 746.50,234.56 746.85,238.06 747.20,240.37 747.50,243.00 747.55,240.98 747.90,240.50 748.25,240.12 748.60,238.40 748.95,236.94 749.00,236.00 749.30,236.10 749.65,242.21 750.00,244.12 750.35,246.96 750.50,248.00 750.70,246.31 751.05,244.41 751.40,242.99 751.75,240.94 752.00,239.00 752.10,239.93 752.45,243.19 752.80,246.55 753.15,247.15 753.50,251.00 753.85,250.68 754.20,251.84 754.55,252.34 754.90,251.99 755.00,253.00 755.25,251.30 755.60,249.45 755.95,247.21 756.30,244.70 756.50,244.00 756.65,243.21 757.00,243.20 757.35,241.52 757.70,240.78 758.00,240.00 758.05,240.07 758.40,243.01 758.75,243.65 759.10,246.24 759.45,250.13 759.50,250.00 759.80,247.13 760.15,243.56 760.50,241.78 760.85,239.10 761.00,238.00 761.20,238.48 761.55,240.24 761.90,240.08 762.25,241.98 762.60,243.40" fill="none" stroke="#0cb80c" stroke-width="1" shape-rendering="crispEdges"/>
<polyline points="64.00,322.50 64.35,320.45 64.70,323.16 65.05,320.12 65.40,320.18 65.75,321.98 66.10,323.26 66.45,322.41 66.80,322.13 67.15,318.15 67.50,324.99 67.85,324.98 68.20,320.86 68.55,323.05 68.90,321.39 69.25,321.13 69.60,321.64 69.95,328.48 70.30,320.00 70.65,322.55 71.00,323.35 71.35,323.69 71.70,321.36 72.05,323.92 72.40,322.77 72.75,324.13 73.10,320.76 73.45,317.12 73.80,326.62 74.15,325.17 74.50,327.47 74.85,320.01 75.20,322.75 75.55,320.28 75.90,323.44 76.25,325.91 76.60,322.33 76.95,323.32 77.30,324.57 77.65,332.02 78.00,322.78 78.35,325.89 78.70,323.63 79.05,321.14 79.40,322.00 79.75,324.90 80.00,323.00 80.10,322.50 80.45,323.42 80.80,323.92 81.15,323.03 81.50,324.14 81.85,324.42 82.20,327.02 82.55,322.96 82.90,324.29 83.25,322.77 83.60,324.11 83.95,320.81 84.30,317.35 84.65,321.86 85.00,328.52 85.35,324.47 85.70,324.46 86.05,324.60 86.40,324.24 86.75,324.34 87.10,321.68 87.45,321.46 87.80,323.23 88.15,314.94 88.50,321.87 88.85,321.68 89.20,323.87 89.55,323.19 89.90,325.49 90.25,321.54 90.60,324.60 90.95,322.40 91.30,324.47 91.65,321.92 92.00,321.05 92.35,322.17 92.70,322.70 93.05,322.81 93.40,325.32 93.75,321.35 94.10,321.64 94.45,322.37 94.80,322.87 95.15,322.05 95.50,323.46 95.85,320.36 96.20,319.38 96.55,328.82 96.90,326.66 97.25,319.90 97.60,324.67 97.95,323.95 98.30,325.13 98.65,324.63 99.00,322.20 99.35,324.73 99.70,324.95 100.00,323.40 100.05,322.36 100.40,317.05 100.75,320.40 101.10,324.67 101.45,322.06 101.80,326.49 102.15,323.81 102.50,322.66 102.85,321.20 103.20,322.96 103.55,323.04 103.90,324.09 104.25,323.84 104.60,321.07 104.95,324.25 105.30,324.89 105.65,322.61 106.00,321.46 106.35,323.20 106.70,325.05 107.05,321.20 107.40,321.48 107.75,324.07 108.10,323.02 108.45,324.78 108.80,324.87 109.15,321.80 109.50,325.06 109.85,325.31 110.20,321.83 110.55,320.22 110.90,323.21 111.25,322.25 111.60,325.64 111.95,323.15 112.30,326.42 112.65,318.17 113.00,324.28 113.35,323.04 113.70,324.05 114.05,322.42 114.40,322.15 114.75,320.62 115.10,323.18 115.45,325.44 115.80,323.42 116.15,325.63 116.50,323.14 116.85,320.95 117.20,322.05 117.55,322.92 117.90,324.48 118.25,322.77 118.60,320.60 118.95,321.42 119.30,326.47 119.65,323.08 120.00,323.50 120.35,324.23 120.70,321.31 121.05,325.56 121.40,324.42 121.75,324.78 122.10,317.93 122.45,324.87 122.80,322.35 123.15,315.99 123.50,322.99 123.85,323.93 124.20,326.27 124.55,322.92 124.90,320.74 125.25,320.37 125.60,323.19 125.95,323.53 126.30,324.29 126.65,326.02 127.00,325.05 127.35,321.26 127.70,320.27 128.05,322.95 128.40,331.20 128.75,323.87 129.10,326.51 129.45,326.41 129.80,325.57 130.00,323.60 130.15,324.87 130.50,326.17 130.85,326.05 131.20,324.23 131.55,323.10 131.90,320.35 132.25,324.51 132.60,320.97 132.95,323.08 133.30,324.04 133.65,326.59 134.00,326.92 134.35,324.39 134.70,321.66 135.05,324.36 135.40,322.23 135.75,322.22 136.10,323.16 136.45,324.08 136.80,322.54 137.15,327.33 137.50,319.97 137.85,323.61 138.20,319.89 138.55,316.57 138.90,321.59 139.25,324.23 139.60,319.98 139.95,318.26 140.00,321.50 140.30,323.63 140.65,321.71 141.00,318.19 141.35,322.75 141.70,319.25 142.05,323.16 142.40,321.52 142.75,325.34 143.10,319.60 143.45,318.80 143.80,323.37 144.15,320.67 144.50,320.99 144.85,320.48 145.00,320.50 145.20,323.33 145.55,323.52 145.90,319.97 146.25,323.79 146.60,321.93 146.95,318.92 147.30,319.48 147.65,318.34 148.00,324.81 148.35,317.52 148.70,318.63 149.05,322.36 149.40,319.63 149.75,316.41 150.00,317.70 150.10,316.63 150.45,316.03 150.80,316.65 151.15,318.55 151.50,318.47 151.85,319.11 152.20,316.33 152.55,315.53 152.90,319.46 153.25,317.46 153.60,316.82 153.95,315.02 154.30,314.68 154.65,312.79 155.00,313.88 155.35,313.83 155.70,314.34 156.05,310.39 156.40,314.69 156.75,313.33 157.10,315.71 157.45,306.84 157.80,311.64 158.15,312.71 158.50,313.33 158.85,310.99 159.20,310.78 159.55,309.53 159.90,310.59 160.00,311.50 160.25,311.80 160.60,312.27 160.95,310.49 161.30,310.14 161.65,310.89 162.00,307.94 162.35,307.44 162.70,310.17 163.05,307.23 163.40,315.06 163.75,310.58 164.10,308.16 164.45,306.46 164.80,308.06 165.15,305.50 165.50,305.78 165.85,308.57 166.20,305.91 166.55,305.61 166.90,303.70 167.25,304.51 167.60,303.99 167.95,304.35 168.30,303.80 168.65,301.37 169.00,302.01 169.35,304.86 169.70,300.97 170.00,303.00 170.05,306.72 170.40,301.36 170.75,302.16 171.10,304.06 171.45,303.50 171.80,301.44 172.15,300.95 172.50,298.52 172.85,300.59 173.20,299.67 173.55,301.79 173.90,294.01 174.25,301.08 174.60,303.74 174.95,295.49 175.30,304.16 175.65,302.20 176.00,304.94 176.35,296.12 176.70,300.89 177.05,303.22 177.40,298.74 177.75,300.92 178.10,297.51 178.45,299.71 178.80,301.09 179.15,298.39 179.50,301.19 179.85,296.45 180.00,299.00 180.20,301.42 180.55,298.10 180.90,299.25 181.25,296.21 181.60,292.81 181.95,298.83 182.30,299.14 182.65,298.56 183.00,294.64 183.35,298.16 183.70,298.29 184.05,297.36 184.40,299.63 184.75,292.73 185.00,297.00 185.10,299.77 185.45,297.06 185.80,295.41 186.15,295.56 186.50,297.12 186.85,295.68 187.20,298.82 187.55,297.00 187.90,297.45 188.25,295.21 188.60,298.32 188.95,299.22 189.30,298.87 189.65,296.95 190.00,296.80 190.35,292.45 190.70,297.90 191.05,298.46 191.40,294.69 191.75,297.10 192.10,296.46 192.45,299.82 192.80,294.55 193.15,299.05 193.50,295.36 193.85,298.28 194.20,295.10 194.55,296.41 194.90,298.14 195.25,299.05 195.60,297.50 195.95,300.57 196.30,301.66 196.65,300.30 197.00,299.75 197.35,300.85 197.70,297.69 198.05,300.61 198.40,299.33 198.75,299.37 199.10,299.89 199.45,307.37 199.80,297.96 200.00,300.00 200.15,299.07 200.50,298.76 200.85,300.01 201.20,297.90 201.55,300.51 201.90,299.26 202.25,300.75 202.60,300.40 202.95,301.95 203.30,301.19 203.65,300.55 204.00,300.45 204.35,302.47 204.70,305.59 205.05,301.37 205.40,300.59 205.75,300.14 206.10,304.46 206.45,300.64 206.80,304.69 207.15,298.53 207.50,302.57 207.85,302.47 208.20,305.18 208.55,301.40 208.90,304.41 209.25,300.31 209.60,303.33 209.95,304.47 210.00,304.50 210.30,301.79 210.65,308.31 211.00,305.92 211.35,305.68 211.70,304.62 212.05,303.77 212.40,304.51 212.75,308.76 213.10,304.41 213.45,304.51 213.80,305.42 214.15,303.48 214.50,306.88 214.85,300.12 215.20,303.86 215.55,310.04 215.90,311.51 216.25,306.04 216.60,305.72 216.95,305.38 217.30,309.91 217.65,306.46 218.00,306.80 218.35,307.50 218.70,310.16 219.05,307.46 219.40,307.19 219.75,306.40 220.00,308.30 220.10,308.68 220.45,308.61 220.80,305.60 221.15,310.55 221.50,305.84 221.85,305.40 222.20,307.51 222.55,305.67 222.90,309.96 223.25,305.65 223.60,307.12 223.95,307.97 224.30,310.64 224.65,310.32 225.00,309.59 225.35,310.52 225.70,310.40 226.05,317.73 226.40,312.18 226.75,308.86 227.10,307.70 227.45,311.43 227.80,313.94 228.15,316.70 228.50,305.36 228.85,311.45 229.20,317.23 229.55,309.64 229.90,313.31 230.00,311.80 230.25,315.59 230.60,312.67 230.95,316.49 231.30,308.27 231.65,316.03 232.00,313.38 232.35,315.51 232.70,314.12 233.05,314.43 233.40,311.69 233.75,313.43 234.10,312.96 234.45,315.68 234.80,308.49 235.15,308.98 235.50,314.12 235.85,313.69 236.20,315.26 236.55,311.64 236.90,310.62 237.25,312.61 237.60,312.20 237.95,317.40 238.30,313.13 238.65,313.11 239.00,311.00 239.35,312.68 239.70,313.08 240.00,314.00 240.05,315.25 240.40,314.17 240.75,323.16 241.10,306.37 241.45,314.98 241.80,314.76 242.15,312.01 242.50,313.59 242.85,314.97 243.20,312.51 243.55,313.80 243.90,313.09 244.25,313.75 244.60,315.04 244.95,316.83 245.30,315.33 245.65,310.84 246.00,310.39 246.35,313.59 246.70,314.74 247.05,317.38 247.40,315.62 247.75,320.32 248.00,315.50 248.10,317.39 248.45,314.11 248.80,315.35 249.15,314.59 249.50,317.33 249.85,318.56 250.20,315.34 250.55,311.82 250.90,311.57 251.25,316.25 251.60,315.98 251.95,314.28 252.30,306.26 252.65,312.68 253.00,320.31 253.35,312.81 253.70,324.13 254.05,315.03 254.40,313.54 254.75,312.30 255.00,313.50 255.10,313.52 255.45,315.10 255.80,310.27 256.15,313.42 256.50,311.32 256.85,314.28 257.20,308.65 257.55,309.48 257.90,312.13 258.25,308.41 258.60,311.54 258.95,312.61 259.30,308.58 259.65,310.08 260.00,309.50 260.35,302.85 260.70,308.28 261.05,308.72 261.40,308.34 261.75,307.48 262.10,308.33 262.45,308.28 262.80,307.24 263.15,305.73 263.50,305.77 263.85,305.19 264.20,305.83 264.55,304.93 264.90,304.00 265.00,304.00 265.25,303.69 265.60,302.82 265.95,302.11 266.30,301.40 266.65,300.70 267.00,300.00 267.35,298.74 267.70,297.47 268.05,296.21 268.40,294.94 268.75,293.68 269.10,292.42 269.45,291.15 269.80,289.89 270.15,288.63 270.50,287.36 270.60,287.00 270.85,283.94 271.20,279.67 271.55,275.39 271.90,271.11 272.25,266.83 272.40,265.00 272.60,259.37 272.95,249.53 273.30,239.69 273.65,229.84 274.00,220.00 274.35,217.37 274.70,214.75 275.05,212.12 275.40,209.50 275.75,206.88 276.00,205.00 276.10,204.29 276.45,201.79 276.80,199.29 277.15,196.79 277.50,194.29 277.85,191.79 278.20,189.29 278.55,186.79 278.90,184.29 279.25,181.79 279.50,180.00 279.60,178.00 279.95,171.00 280.30,164.00 280.65,157.00 281.00,150.00 281.35,143.00 281.70,136.00 282.00,130.00 282.05,129.31 282.40,124.50 282.75,119.69 283.10,114.87 283.45,110.06 283.60,108.00 283.80,106.50 284.15,103.88 284.50,101.25 284.85,98.62 285.20,96.00 285.55,93.37 285.90,90.75 286.00,90.00 286.25,87.50 286.60,84.00 286.95,80.50 287.30,77.00 287.40,76.00 287.65,71.00 288.00,64.00 288.10,62.00 288.35,62.00 288.70,62.00 289.00,62.00 289.05,62.88 289.40,69.00 289.75,75.12 289.80,76.00 290.10,81.25 290.45,87.37 290.60,90.00 290.80,92.57 291.15,97.07 291.50,101.57 291.85,106.07 292.00,108.00 292.20,116.80 292.50,130.00 292.55,131.00 292.90,138.00 293.00,140.00 293.25,144.25 293.60,150.20 293.95,156.15 294.30,162.10 294.65,168.05 295.00,174.00 295.35,168.87 295.70,163.73 296.05,158.60 296.40,153.47 296.50,152.00 296.75,152.00 297.10,152.00 297.45,152.00 297.80,152.00 298.00,152.00 298.15,152.00 298.50,152.00 298.85,152.00 299.20,152.00 299.55,152.00 299.90,152.00 300.00,152.00 300.25,155.25 300.60,159.80 300.95,164.35 301.00,165.00 301.30,175.50 301.65,187.75 302.00,200.00 302.35,205.38 302.70,210.77 303.05,216.15 303.30,220.00 303.40,220.91 303.75,224.09 304.10,227.27 304.45,230.45 304.80,233.64 305.15,236.82 305.50,240.00 305.85,242.50 306.20,245.00 306.55,247.50 306.90,250.00 307.25,252.50 307.60,255.00 307.95,257.50 308.30,260.00 308.65,262.50 309.00,265.00 309.35,269.38 309.70,273.75 310.05,278.13 310.40,282.50 310.75,286.88 311.00,290.00 311.10,290.45 311.45,292.02 311.80,293.60 312.15,295.18 312.50,296.82 312.85,298.46 313.00,299.00 313.20,299.43 313.55,300.59 313.90,302.09 314.25,302.89 314.60,303.61 314.95,305.05 315.00,305.00 315.30,305.15 315.65,305.71 316.00,306.56 316.35,307.73 316.70,307.20 317.05,309.02 317.40,307.88 317.75,309.46 318.00,310.40 318.10,310.99 318.45,310.83 318.80,311.78 319.15,313.98 319.50,312.74 319.85,311.18 320.00,312.70 320.20,312.11 320.55,312.73 320.90,312.68 321.25,314.16 321.60,311.89 321.95,313.04 322.30,313.06 322.65,313.30 323.00,312.61 323.35,311.22 323.70,313.50 324.05,312.67 324.40,314.20 324.75,312.68 325.00,313.50 325.10,312.70 325.45,313.25 325.80,314.98 326.15,313.49 326.50,312.81 326.85,313.47 327.20,314.50 327.55,312.39 327.90,312.38 328.00,313.50 328.25,311.72 328.60,312.05 328.95,309.72 329.00,311.00 329.30,310.89 329.65,311.02 330.00,313.87 330.35,312.62 330.70,312.40 331.00,314.00 331.05,314.62 331.40,315.09 331.75,313.84 332.10,314.90 332.45,314.60 332.80,314.61 333.15,315.32 333.50,315.10 333.85,315.74 334.20,315.78 334.55,316.18 334.90,316.80 335.25,316.56 335.60,314.75 335.95,316.66 336.30,315.67 336.65,316.77 337.00,316.76 337.35,315.49 337.70,315.45 338.05,314.23 338.40,317.71 338.75,317.05 339.10,317.79 339.45,316.87 339.80,316.55 340.00,317.40 340.15,318.03 340.50,316.75 340.85,317.24 341.20,318.71 341.55,317.81 341.90,316.93 342.25,317.84 342.60,318.16 342.95,317.32 343.30,318.15 343.65,315.74 344.00,316.00 344.35,318.27 344.70,318.49 345.05,317.80 345.40,317.63 345.75,318.14 346.10,318.29 346.45,319.00 346.80,318.89 347.15,318.38 347.50,318.98 347.85,320.50 348.20,318.03 348.55,317.83 348.90,317.71 349.25,318.51 349.60,320.42 349.95,318.39 350.00,319.00 350.30,317.89 350.65,319.73 351.00,319.85 351.35,319.58 351.70,319.17 352.05,319.48 352.40,319.40 352.75,319.84 353.10,318.30 353.45,320.26 353.80,319.73 354.15,319.50 354.50,322.66 354.85,319.36 355.20,319.67 355.55,319.19 355.90,318.84 356.25,319.73 356.60,320.70 356.95,320.85 357.30,320.65 357.65,319.37 358.00,321.16 358.35,321.12 358.70,319.75 359.05,320.62 359.40,321.21 359.75,320.60 360.00,320.80 360.10,320.83 360.45,320.51 360.80,321.51 361.15,320.90 361.50,321.38 361.85,321.74 362.20,321.02 362.55,321.77 362.90,322.06 363.25,322.36 363.60,321.78 363.95,322.67 364.30,321.00 364.65,322.08 365.00,320.76 365.35,321.45 365.70,319.85 366.05,321.39 366.40,323.18 366.75,322.38 367.10,319.00 367.45,319.82 367.80,322.85 368.15,322.23 368.50,320.10 368.85,324.27 369.20,325.39 369.55,321.73 369.90,323.46 370.00,322.80 370.25,321.58 370.60,324.38 370.95,323.59 371.30,323.32 371.65,322.24 372.00,323.34 372.35,321.64 372.70,322.76 373.05,323.36 373.40,324.78 373.75,321.74 374.10,322.53 374.45,322.31 374.80,324.89 375.15,324.00 375.50,324.02 375.85,320.58 376.20,324.33 376.55,323.81 376.90,323.83 377.25,323.44 377.60,324.74 377.95,324.14 378.30,323.93 378.65,326.64 379.00,325.13 379.35,324.57 379.70,324.64 380.00,324.40 380.05,324.07 380.40,324.83 380.75,324.37 381.10,323.70 381.45,325.16 381.80,325.39 382.15,323.76 382.50,325.00 382.85,325.50 383.20,323.98 383.55,324.26 383.90,325.33 384.25,323.66 384.60,323.63 384.95,325.50 385.30,325.43 385.65,325.01 386.00,325.34 386.35,324.53 386.70,326.10 387.05,325.23 387.40,324.40 387.75,325.46 388.10,323.40 388.45,327.82 388.80,324.33 389.15,325.44 389.50,323.92 389.85,325.33 390.00,324.90 390.20,324.22 390.55,324.19 390.90,325.01 391.25,326.99 391.60,324.42 391.95,325.35 392.30,323.76 392.65,325.58 393.00,325.11 393.35,329.07 393.70,324.41 394.05,325.02 394.40,325.10 394.75,324.90 395.10,324.61 395.45,324.02 395.80,324.68 396.15,326.18 396.50,323.09 396.85,325.29 397.20,324.65 397.55,325.60 397.90,325.41 398.25,326.41 398.60,325.28 398.95,324.96 399.30,325.80 399.65,324.59 400.00,324.40 400.35,325.21 400.70,324.52 401.05,325.51 401.40,324.02 401.75,322.94 402.10,323.07 402.45,324.52 402.80,324.04 403.15,323.85 403.50,324.30 403.85,324.29 404.20,320.87 404.55,323.48 404.90,324.89 405.25,323.32 405.60,322.67 405.95,322.19 406.30,321.79 406.65,323.46 407.00,323.38 407.35,322.75 407.70,322.58 408.05,323.38 408.40,325.43 408.75,322.18 409.10,323.97 409.45,323.53 409.80,322.45 410.00,323.00 410.15,323.06 410.50,323.82 410.85,320.29 411.20,321.87 411.55,322.37 411.90,322.56 412.25,322.41 412.60,322.63 412.95,322.58 413.30,322.99 413.65,323.63 414.00,323.52 414.35,322.37 414.70,324.98 415.05,324.18 415.40,322.39 415.75,324.35 416.10,325.04 416.45,322.28 416.80,322.28 417.15,324.85 417.50,323.26 417.85,324.31 418.20,323.05 418.55,324.48 418.90,323.17 419.25,322.15 419.60,322.64 419.95,324.36 420.00,323.00 420.30,324.59 420.65,324.94 421.00,324.30 421.35,324.57 421.70,318.62 422.05,322.68 422.40,328.79 422.75,320.27 423.10,326.44 423.45,328.43 423.80,324.65 424.15,326.56 424.50,322.28 424.85,325.76 425.00,327.00 425.20,328.68 425.55,329.98 425.90,323.39 426.25,330.48 426.60,323.52 426.95,325.18 427.30,326.55 427.65,324.88 428.00,322.78 428.35,329.36 428.70,324.41 429.05,324.18 429.40,324.57 429.75,325.66 430.00,328.00 430.10,328.06 430.45,326.31 430.80,333.96 431.15,329.53 431.50,327.20 431.85,330.28 432.20,329.04 432.55,329.29 432.90,333.09 433.25,333.39 433.60,333.22 433.95,334.00 434.30,326.16 434.65,328.31 435.00,329.00 435.35,326.02 435.70,333.72 436.05,326.56 436.40,328.88 436.75,332.70 437.10,333.09 437.45,329.19 437.80,342.42 438.15,324.44 438.50,324.39 438.85,328.84 439.20,336.48 439.55,333.06 439.90,329.55 440.00,331.00 440.25,331.44 440.60,335.19 440.95,335.28 441.30,329.42 441.65,347.22 442.00,332.90 442.35,332.45 442.70,335.32 443.05,330.77 443.40,339.75 443.75,335.91 444.10,331.93 444.45,335.14 444.80,321.76 445.00,331.00 445.15,330.74 445.50,334.57 445.85,330.74 446.20,320.43 446.55,332.95 446.90,330.98 447.00,333.00 447.25,331.97 447.60,329.71 447.95,323.38 448.30,338.48 448.65,319.59 449.00,331.33 449.35,326.63 449.70,311.17 450.00,330.00 450.05,338.41 450.40,334.84 450.75,330.67 451.10,329.71 451.45,324.40 451.80,328.65 452.15,330.58 452.50,329.01 452.85,330.83 453.20,325.32 453.55,335.14 453.90,329.06 454.25,324.88 454.60,327.59 454.95,341.63 455.00,328.00 455.30,329.70 455.65,330.31 456.00,326.49 456.35,330.32 456.70,324.91 457.05,327.96 457.40,330.99 457.75,326.88 458.10,322.00 458.45,338.42 458.80,328.42 459.15,331.48 459.50,322.31 459.85,334.14 460.00,327.50 460.20,332.01 460.55,332.71 460.90,328.62 461.25,324.12 461.60,327.59 461.95,317.43 462.30,330.97 462.65,338.37 463.00,321.33 463.35,335.41 463.70,311.51 464.05,332.12 464.40,332.73 464.75,332.46 465.00,328.50 465.10,325.10 465.45,340.00 465.80,330.77 466.15,323.69 466.50,328.44 466.85,329.79 467.20,325.34 467.55,331.29 467.90,330.53 468.25,317.51 468.60,334.66 468.95,333.21 469.30,320.72 469.65,327.51 470.00,331.00 470.35,334.95 470.70,324.88 471.05,332.02 471.40,337.10 471.75,330.98 472.10,324.99 472.45,335.83 472.80,330.18 473.15,335.69 473.50,325.01 473.85,331.14 474.20,333.94 474.55,326.71 474.90,326.67 475.00,330.00 475.25,341.99 475.60,326.81 475.95,332.01 476.30,333.39 476.65,341.07 477.00,327.25 477.35,327.93 477.70,333.72 478.05,332.13 478.40,319.96 478.75,328.65 479.10,332.86 479.45,328.27 479.80,320.07 480.00,328.00 480.15,323.60 480.50,328.07 480.85,333.85 481.20,328.87 481.55,325.33 481.90,327.76 482.25,336.29 482.60,319.28 482.95,324.85 483.30,326.14 483.65,335.13 484.00,328.88 484.35,330.52 484.70,336.49 485.00,328.00 485.05,326.85 485.40,326.29 485.75,323.23 486.10,326.07 486.45,327.46 486.80,324.06 487.15,333.46 487.50,329.09 487.85,326.80 488.20,326.08 488.55,326.73 488.90,329.90 489.25,332.10 489.60,327.35 489.95,326.19 490.00,327.50 490.30,329.10 490.65,319.62 491.00,324.23 491.35,323.53 491.70,329.07 492.05,320.90 492.40,321.29 492.75,323.30 493.10,320.86 493.45,322.07 493.80,322.44 494.15,331.98 494.50,329.60 494.85,324.40 495.00,325.50 495.20,324.35 495.55,327.13 495.90,329.96 496.25,326.14 496.60,322.27 496.95,323.58 497.30,326.90 497.65,325.25 498.00,326.88 498.35,323.79 498.70,324.54 499.05,322.82 499.40,324.91 499.75,322.66 500.00,324.00 500.10,323.52 500.45,323.95 500.80,325.11 501.15,326.94 501.50,324.56 501.85,324.79 502.20,323.66 502.55,322.92 502.90,323.43 503.25,318.92 503.60,324.01 503.95,323.94 504.30,323.69 504.65,323.08 505.00,323.69 505.35,323.43 505.70,322.49 506.05,323.18 506.40,324.77 506.75,325.01 507.10,323.69 507.45,325.05 507.80,324.62 508.15,322.51 508.50,322.38 508.85,323.72 509.20,322.15 509.55,322.99 509.90,322.94 510.00,323.00 510.25,324.58 510.60,322.33 510.95,323.67 511.30,322.28 511.65,322.27 512.00,321.93 512.35,323.16 512.70,321.52 513.05,324.18 513.40,321.76 513.75,323.58 514.10,322.45 514.45,320.66 514.80,322.41 515.15,322.88 515.50,321.65 515.85,322.67 516.20,322.54 516.55,324.54 516.90,323.11 517.25,322.90 517.60,322.46 517.95,323.05 518.30,321.86 518.65,322.67 519.00,321.14 519.35,322.23 519.70,321.47 520.00,322.50 520.05,323.44 520.40,323.41 520.75,322.77 521.10,321.74 521.45,321.27 521.80,321.62 522.15,321.07 522.50,320.66 522.85,321.77 523.20,321.79 523.55,321.79 523.90,320.49 524.25,320.39 524.60,319.88 524.95,319.46 525.00,320.00 525.30,318.28 525.65,319.99 526.00,319.53 526.35,318.03 526.70,320.11 527.05,318.90 527.40,316.33 527.75,316.15 528.10,315.27 528.45,316.23 528.80,315.25 529.15,315.98 529.50,316.06 529.85,315.36 530.00,315.00 530.20,313.97 530.55,313.38 530.90,312.77 531.25,311.22 531.60,310.06 531.95,309.16 532.30,308.10 532.65,307.05 533.00,306.00 533.35,303.55 533.70,301.10 534.05,298.65 534.40,296.20 534.75,293.75 535.00,292.00 535.10,291.70 535.45,290.65 535.80,289.60 536.15,288.55 536.50,287.50 536.85,286.45 537.00,286.00 537.20,284.00 537.55,280.50 537.90,277.00 538.25,273.50 538.60,270.00 538.95,266.50 539.00,266.00 539.30,262.00 539.65,257.33 540.00,252.67 540.35,248.00 540.50,246.00 540.70,247.33 541.05,249.67 541.40,252.00 541.75,254.33 542.00,256.00 542.10,257.50 542.45,262.75 542.80,268.00 543.15,273.25 543.50,278.50 543.85,283.75 544.20,289.00 544.55,290.38 544.90,291.77 545.25,293.22 545.60,295.79 545.95,294.62 546.30,297.30 546.65,298.00 547.00,299.41 547.35,298.78 547.70,298.96 548.05,299.21 548.40,299.40 548.75,297.33 549.10,299.87 549.45,299.81 549.80,301.07 550.15,300.00 550.50,300.50 550.85,300.45 551.20,299.50 551.55,299.05 551.90,297.38 552.25,298.46 552.60,296.30 552.95,301.59 553.10,304.70 553.30,303.86 553.65,305.01 554.00,302.65 554.35,301.76 554.70,302.00 555.05,301.68 555.40,303.02 555.75,301.70 556.10,303.71 556.45,303.82 556.80,303.60 557.15,302.75 557.50,304.07 557.85,304.80 558.20,303.22 558.55,302.61 558.90,302.35 559.25,303.28 559.40,303.60 559.60,301.95 559.95,299.34 560.30,296.56 560.50,295.00 560.65,290.35 561.00,279.50 561.35,268.65 561.50,264.00 561.70,263.60 562.05,262.90 562.40,262.20 562.50,262.00 562.75,265.98 563.10,271.55 563.45,277.11 563.60,279.50 563.80,280.79 564.15,283.04 564.50,285.29 564.85,287.54 565.20,289.79 565.55,292.04 565.70,293.00 565.90,290.80 566.25,286.95 566.60,283.10 566.70,282.00 566.95,284.05 567.30,286.87 567.65,290.10 567.80,291.00 568.00,291.89 568.35,293.46 568.70,295.22 569.05,298.62 569.40,301.50 569.75,302.00 570.10,299.34 570.45,303.11 570.80,303.38 571.15,304.35 571.50,304.10 571.85,303.06 572.20,306.67 572.55,306.42 572.90,306.38 573.25,306.07 573.60,306.80 573.95,307.04 574.30,307.90 574.65,308.72 575.00,308.52 575.35,306.12 575.70,309.17 576.05,311.13 576.20,309.40 576.40,308.37 576.75,306.56 577.10,307.14 577.45,308.24 577.80,304.22 578.15,304.78 578.30,304.70 578.50,305.88 578.85,303.69 579.20,302.78 579.55,301.05 579.90,300.50 580.25,292.08 580.60,283.66 580.95,275.23 581.30,266.81 581.50,262.00 581.65,250.38 582.00,223.25 582.30,200.00 582.35,195.83 582.70,166.67 582.90,150.00 583.05,134.48 583.30,108.60 583.40,118.95 583.70,150.00 583.75,154.17 584.10,183.33 584.30,200.00 584.45,204.38 584.80,214.58 585.15,224.79 585.50,235.00 585.85,237.54 586.20,240.09 586.55,242.63 586.90,245.18 587.25,247.72 587.60,250.27 587.95,252.81 588.10,253.90 588.30,251.20 588.65,246.48 589.00,241.75 589.35,237.02 589.50,235.00 589.70,225.00 590.05,207.50 590.20,200.00 590.40,193.33 590.75,181.67 591.10,170.00 591.45,158.33 591.80,146.67 592.00,140.00 592.15,138.88 592.50,136.25 592.85,133.63 593.20,131.00 593.55,124.80 593.90,118.59 594.25,112.39 594.30,111.50 594.60,112.66 594.95,114.01 595.30,115.36 595.65,116.72 596.00,118.07 596.35,119.42 596.50,120.00 596.70,128.00 597.05,142.00 597.40,156.00 597.50,160.00 597.75,180.00 598.00,200.00 598.10,201.59 598.45,207.16 598.80,212.73 599.15,218.30 599.50,223.86 599.85,229.43 600.20,235.00 600.55,238.89 600.90,242.78 601.25,246.67 601.60,250.56 601.95,254.44 602.00,255.00 602.30,256.70 602.65,258.68 603.00,260.67 603.35,262.65 603.70,264.63 604.05,266.62 604.40,268.60 604.75,263.83 605.10,259.07 605.45,254.30 605.80,249.53 606.15,244.77 606.50,240.00 606.85,230.00 607.20,220.00 607.55,210.00 607.90,200.00 608.25,190.28 608.60,180.56 608.80,175.00 608.95,173.61 609.30,170.36 609.50,168.50 609.65,170.97 610.00,176.75 610.35,182.53 610.50,185.00 610.70,182.00 611.05,176.75 611.40,171.50 611.50,170.00 611.75,169.62 612.10,169.10 612.45,168.57 612.50,168.50 612.80,173.43 613.15,179.18 613.20,180.00 613.50,192.00 613.70,200.00 613.85,205.75 614.20,219.17 614.55,232.58 614.90,246.00 615.25,245.00 615.60,244.00 615.95,243.00 616.30,242.00 616.65,241.00 617.00,240.00 617.35,239.33 617.70,238.67 618.05,238.00 618.40,237.33 618.75,236.67 619.10,236.00 619.45,236.74 619.80,237.47 620.15,238.21 620.50,238.95 620.85,239.68 621.00,240.00 621.20,240.52 621.55,241.43 621.90,242.35 622.25,243.26 622.60,244.17 622.95,245.09 623.30,246.00 623.65,237.06 624.00,228.11 624.20,223.00 624.35,222.36 624.70,220.85 625.05,219.35 625.40,217.85 625.75,216.35 626.10,214.85 626.45,213.35 626.80,211.85 627.15,210.34 627.30,209.70 627.50,210.95 627.85,213.14 628.20,215.33 628.55,217.51 628.90,219.70 629.25,221.89 629.60,224.08 629.95,226.26 630.30,228.45 630.50,229.70 630.65,228.25 631.00,224.85 631.35,221.45 631.50,220.00 631.70,217.33 632.05,212.67 632.40,208.00 632.75,203.33 633.00,200.00 633.10,198.06 633.45,191.25 633.80,184.44 634.15,177.64 634.50,170.83 634.80,165.00 634.85,163.12 635.20,150.00 635.55,136.88 635.90,123.75 636.00,120.00 636.25,105.42 636.60,85.00 636.95,64.58 637.20,50.00 637.30,40.75 637.60,13.00 637.65,13.00 638.00,13.00 638.35,13.00 638.60,13.00 638.70,19.17 639.05,40.75 639.20,50.00 639.40,54.76 639.75,63.10 640.10,71.43 640.45,79.76 640.80,88.10 641.15,96.43 641.30,100.00 641.50,104.62 641.85,112.69 642.20,120.77 642.55,128.85 642.60,130.00 642.90,140.38 643.25,152.50 643.60,164.62 643.90,175.00 643.95,176.25 644.30,185.00 644.65,193.75 645.00,202.50 645.35,211.25 645.70,220.00 646.05,221.96 646.40,223.92 646.75,225.88 647.10,227.84 647.45,229.80 647.80,231.76 648.15,233.72 648.20,234.00 648.50,228.00 648.85,221.00 649.20,214.00 649.55,207.00 649.90,200.00 650.25,193.00 650.40,190.00 650.60,185.33 650.95,177.17 651.30,169.00 651.60,162.00 651.65,162.67 652.00,167.33 652.35,172.00 652.70,176.67 653.05,181.33 653.40,186.00 653.70,190.00 653.75,190.77 654.10,196.15 654.45,201.54 654.80,206.92 655.00,210.00 655.15,210.43 655.50,211.43 655.85,212.43 656.20,213.43 656.55,214.43 656.90,215.43 657.25,216.43 657.60,217.43 657.80,218.00 657.95,217.22 658.30,215.40 658.65,213.58 659.00,211.76 659.35,209.94 659.70,208.12 660.05,206.30 660.30,205.00 660.40,202.92 660.75,195.65 661.10,188.38 661.45,181.12 661.60,178.00 661.80,172.40 662.15,162.60 662.50,152.80 662.60,150.00 662.85,143.06 663.20,133.33 663.50,125.00 663.55,124.25 663.90,119.00 664.25,113.75 664.50,110.00 664.60,108.65 664.95,103.91 665.30,99.17 665.65,94.43 665.80,92.40 666.00,93.45 666.35,95.28 666.70,97.11 667.05,98.94 667.40,100.77 667.75,102.60 668.10,104.43 668.40,106.00 668.45,108.00 668.80,122.00 669.00,130.00 669.15,132.25 669.50,137.50 669.85,142.75 670.00,145.00 670.20,145.46 670.55,146.27 670.90,147.08 671.25,147.88 671.60,148.69 671.95,149.50 672.30,150.31 672.60,151.00 672.65,150.45 673.00,146.60 673.35,142.75 673.60,140.00 673.70,141.43 674.05,146.43 674.40,151.43 674.75,156.43 675.00,160.00 675.10,161.46 675.45,166.58 675.80,171.69 676.15,176.81 676.30,179.00 676.50,175.13 676.85,168.37 677.20,161.60 677.55,154.83 677.80,150.00 677.90,146.82 678.25,135.68 678.60,124.55 678.90,115.00 678.95,114.44 679.30,110.49 679.65,106.54 680.00,102.59 680.35,98.64 680.70,94.69 681.00,91.30 681.05,91.99 681.40,96.79 681.75,101.60 682.10,106.40 682.45,111.21 682.80,116.02 683.15,120.82 683.50,125.63 683.60,127.00 683.85,131.44 684.20,137.67 684.50,143.00 684.55,143.75 684.90,149.00 685.25,154.25 685.60,159.50 685.95,164.75 686.30,170.00 686.65,175.25 687.00,180.50 687.30,185.00 687.35,185.84 687.70,191.71 688.05,197.59 688.40,203.46 688.70,208.50 688.75,209.02 689.10,212.67 689.45,216.33 689.80,219.98 690.15,223.63 690.50,227.28 690.85,230.93 691.00,232.50 691.20,232.40 691.55,232.23 691.90,232.05 692.25,231.88 692.60,231.70 692.95,231.52 693.30,231.35 693.65,231.18 694.00,231.00 694.35,229.72 694.70,228.45 695.05,227.17 695.40,225.89 695.75,224.61 696.10,223.34 696.45,222.06 696.80,220.78 697.15,219.51 697.50,218.23 697.70,217.50 697.85,218.32 698.20,220.22 698.55,222.12 698.90,224.02 699.25,225.92 699.60,227.83 699.95,229.73 700.00,230.00 700.30,229.12 700.65,228.09 701.00,227.07 701.35,226.04 701.70,225.01 702.05,223.99 702.40,222.96 702.75,221.93 703.00,221.20 703.10,221.58 703.45,222.90 703.80,224.22 704.15,225.54 704.50,226.86 704.85,228.18 705.20,229.50 705.55,230.55 705.90,231.60 706.25,232.65 706.60,233.70 706.95,234.75 707.30,235.80 707.65,236.85 708.00,237.90 708.20,238.50 708.35,238.65 708.70,239.00 709.05,239.35 709.40,239.70 709.70,240.00 709.75,239.85 710.10,238.80 710.45,237.75 710.80,236.70 711.15,235.65 711.20,235.50 711.50,228.74 711.85,220.85 712.20,212.97 712.55,205.08 712.70,201.70 712.90,206.81 713.25,215.74 713.60,224.68 713.95,233.62 714.20,240.00 714.30,240.33 714.65,241.47 715.00,242.61 715.35,243.75 715.70,244.89 716.05,246.03 716.40,247.17 716.50,247.50 716.75,246.48 717.10,245.05 717.45,243.61 717.80,242.18 718.15,240.75 718.50,239.32 718.70,238.50 718.85,237.42 719.20,234.91 719.55,232.40 719.90,229.89 720.25,227.38 720.60,224.87 720.95,222.36 721.00,222.00 721.30,216.60 721.65,210.30 722.00,204.00 722.35,197.70 722.50,195.00 722.70,192.48 723.05,188.07 723.40,183.67 723.75,179.26 724.10,174.85 724.45,170.44 724.80,166.04 725.15,161.63 725.20,161.00 725.50,168.31 725.85,176.84 726.20,185.38 726.55,193.91 726.80,200.00 726.90,201.25 727.25,205.63 727.60,210.00 727.95,214.38 728.00,215.00 728.30,217.37 728.65,220.13 729.00,222.90 729.35,225.67 729.70,228.43 730.00,230.80 730.05,230.03 730.40,224.64 730.75,219.25 731.10,213.86 731.45,208.47 731.80,203.08 732.00,200.00 732.15,194.97 732.50,183.22 732.85,171.47 733.20,159.72 733.55,147.98 733.60,146.30 733.90,157.81 734.25,171.23 734.60,184.66 734.95,198.08 735.00,200.00 735.30,214.53 735.65,231.48 735.70,233.90 736.00,231.85 736.35,229.45 736.70,227.05 737.00,225.00 737.05,224.03 737.40,217.22 737.75,210.42 738.10,203.61 738.45,196.81 738.80,190.00 739.15,183.97 739.50,177.94 739.85,171.91 740.20,165.88 740.55,159.85 740.90,153.82 741.00,152.10 741.25,162.08 741.60,176.05 741.95,190.02 742.20,200.00 742.30,209.90 742.50,229.70 742.65,235.79 743.00,250.00 743.35,262.60 743.50,268.00 743.70,268.60 744.05,269.65 744.40,270.70 744.50,271.00 744.75,271.08 745.10,271.19 745.45,271.30 745.80,271.41 746.15,271.52 746.50,271.64 746.70,271.70 746.85,271.17 747.20,269.92 747.55,268.67 747.90,267.42 748.25,266.17 748.60,264.93 748.95,263.68 749.00,263.50 749.30,262.30 749.65,260.90 750.00,259.50 750.35,258.10 750.50,257.50 750.70,258.30 751.05,259.70 751.40,261.10 751.75,262.50 752.00,263.50 752.10,263.77 752.45,264.73 752.80,265.68 753.15,266.64 753.50,267.59 753.85,268.55 754.20,269.50 754.55,270.20 754.90,270.90 755.25,271.60 755.60,272.30 755.70,272.50 755.95,271.25 756.30,269.50 756.65,267.75 757.00,266.00 757.20,265.00 757.35,264.10 757.70,262.00 758.05,259.90 758.40,257.80 758.70,256.00 758.75,256.15 759.10,257.20 759.45,258.25 759.80,259.30 760.15,260.35 760.20,260.50 760.50,259.90 760.85,259.20 761.20,258.50 761.55,257.80 761.70,257.50 761.90,258.50 762.25,260.25 762.60,262.00" fill="none" stroke="#ff0000" stroke-width="1" shape-rendering="crispEdges"/>
<text x="53.6" y="48.7" class="ax" text-anchor="end">0,14</text><text x="53.6" y="88.7" class="ax" text-anchor="end">0,12</text><text x="53.6" y="129.7" class="ax" text-anchor="end">0,10</text><text x="53.6" y="171.7" class="ax" text-anchor="end">0,08</text><text x="53.6" y="212.7" class="ax" text-anchor="end">0,06</text><text x="53.6" y="254.7" class="ax" text-anchor="end">0,04</text><text x="53.6" y="296.7" class="ax" text-anchor="end">0,02</text><text x="53.6" y="337.7" class="ax" text-anchor="end">0,00</text><text x="167.5" y="375.6" class="ax" text-anchor="middle">3500</text><text x="271.5" y="375.6" class="ax" text-anchor="middle">3000</text><text x="376.5" y="375.6" class="ax" text-anchor="middle">2500</text><text x="480.5" y="375.6" class="ax" text-anchor="middle">2000</text><text x="584.5" y="375.6" class="ax" text-anchor="middle">1500</text><text x="689.5" y="375.6" class="ax" text-anchor="middle">1000</text>
<rect x="328" y="174" width="194" height="86" fill="#fff"/>
<rect x="328" y="174" width="194" height="2" fill="#6e6e6e"/>
<rect x="328" y="174" width="1" height="86" fill="#111"/>
<rect x="521" y="174" width="1" height="86" fill="#333"/>
<rect x="328" y="259" width="194" height="1" fill="#333"/>
<text x="367.2" y="190.6" class="lgb" letter-spacing="0.4">Legend</text>
<rect x="333" y="209" width="13" height="1" fill="#ff0000"/><rect x="347" y="209" width="13" height="1" fill="#ff0000"/>
<text x="367.5" y="211.8" class="lg">hybrid resin of type 2</text>
<rect x="334" y="230" width="13" height="1" fill="#40c040"/><rect x="348" y="230" width="13" height="1" fill="#40c040"/>
<text x="367.5" y="233.4" class="lg">hybrid resin of type 2</text>
<text x="367.5" y="255.4" class="lg" letter-spacing="0.65">re-tested</text>
<text class="ttl" font-size="17" transform="translate(363.2,394.4) scale(0.87,1)">wavenumber</text>
<text class="ttl" font-size="16" x="455" y="393.6" style="stroke:none">[</text>
<text class="ttl" font-size="17" transform="translate(462.5,394.4) scale(0.97,1)">cm</text>
<text class="ttl" font-size="11" x="486.2" y="388.6">-</text>
<text font-family="Liberation Serif" font-size="10" x="490.0" y="388.2" fill="#111">1</text>
<text class="ttl" font-size="16" x="499.6" y="393.6" style="stroke:none">]</text>
<text font-family="Liberation Sans" fill="#161616" stroke="#161616" stroke-width="0.15" font-size="15.5" transform="translate(18.6,230.8) rotate(-90) scale(1.16,1)">absorbance<tspan fill="#2a2a3a" stroke="none" font-size="14.5"> [ % ]</tspan></text>
</svg>
</body></html>
